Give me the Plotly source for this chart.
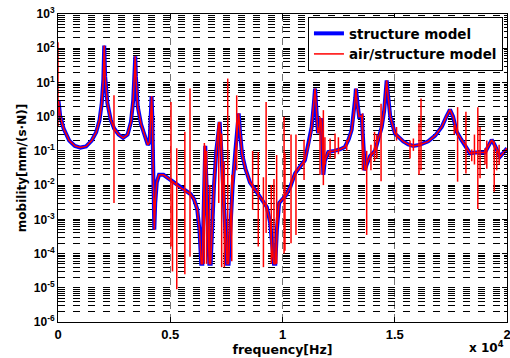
import plotly.graph_objects as go

# ---- structure model (blue) ----
structure_freq = [20, 100, 250, 500, 750, 1000, 1250, 1500, 1700, 1850, 1950, 2020, 2060, 2100, 2200,
                  2350, 2500, 2700, 2900, 3100, 3250, 3350, 3410, 3440, 3470, 3550, 3700, 3850, 4000,
                  4080, 4140, 4170, 4200, 4250, 4290, 4330, 4400, 4500, 4700, 4900, 5100, 5300, 5500,
                  5700, 5900, 6050, 6200, 6300, 6380, 6430, 6480, 6530, 6560, 6600, 6680, 6740, 6800,
                  6870, 6950, 7050, 7150, 7200, 7250, 7350, 7450, 7530, 7600, 7680, 7780, 7900, 7980,
                  8050, 8100, 8200, 8350, 8550, 8800, 9050, 9300, 9450, 9550, 9620, 9680, 9750, 9850,
                  10000, 10150, 10350, 10560, 11000, 11200, 11300, 11400, 11450, 11500, 11580, 11650,
                  11710, 11760, 11820, 11880, 12040, 12300, 12550, 12780, 12950, 13080, 13180, 13240,
                  13270, 13320, 13410, 13530, 13600, 13670, 13750, 13900, 14120, 14300, 14420, 14530,
                  14600, 14640, 14690, 14800, 15010, 15200, 15380, 15600, 15830, 16100, 16490, 16800,
                  17090, 17300, 17460, 17600, 17760, 17950, 18130, 18350, 18600, 19020, 19200, 19320,
                  19450, 19690, 19850, 20000]
structure_mob = [3.0, 1.0, 0.45, 0.2, 0.14, 0.125, 0.135, 0.2, 0.35, 0.8, 2.5, 12, 120, 15, 2.5,
                 0.8, 0.45, 0.3, 0.24, 0.3, 0.7, 3, 20, 58, 15, 2, 0.6, 0.3, 0.15,
                 0.18, 1.5, 4.0, 1.0, 0.01, 5e-4, 0.003, 0.012, 0.02, 0.02, 0.016, 0.013, 0.01, 0.008,
                 0.0065, 0.0055, 0.004, 0.002, 0.0005, 5e-5, 5e-5, 0.005, 0.1, 0.14, 0.02, 0.0005, 5e-5, 5e-5,
                 0.001, 0.01, 0.1, 0.6, 0.7, 0.2, 0.01, 0.0005, 5e-5, 5e-5, 0.001, 0.01, 0.1, 0.6,
                 1.25, 0.4, 0.08, 0.03, 0.012, 0.007, 0.004, 0.0023, 0.0008, 1e-4, 5e-5, 5e-5, 5e-4, 0.003,
                 0.004, 0.005, 0.009, 0.022, 0.054, 0.2, 0.5, 2.5, 6.6, 2, 0.33, 0.5,
                 0.9, 0.3, 0.02, 0.05, 0.093, 0.1, 0.11, 0.13, 0.22, 0.41, 1.2, 3.5,
                 6.6, 2.5, 1.0, 1.05, 0.2, 0.027, 0.04, 0.07, 0.1, 0.25, 0.5, 1.5,
                 5, 11.5, 5, 1.0, 0.32, 0.24, 0.19, 0.155, 0.14, 0.15, 0.19, 0.28,
                 0.5, 1.0, 1.6, 1.0, 0.36, 0.22, 0.15, 0.085, 0.09, 0.09, 0.15, 0.21,
                 0.15, 0.068, 0.09, 0.12]

# ---- air/structure model (red): base follows the structure curve, plus narrow spikes ----
air_base_freq = structure_freq
air_base_mob = structure_mob
spike_freq = [0, 2494, 5033, 5100, 5290, 5650, 5880, 6520, 6620, 6760, 7160, 7290, 7410, 7560, 7740,
              7960, 8670, 8920, 9150, 9270, 9500, 9620, 9740, 10070, 10110, 10380, 10600, 10960,
              11670, 11820, 11890, 12120, 12340, 12490, 12860, 13560, 13750, 13940, 14100, 14200,
              14390, 15080, 15680, 15830, 16080, 16170, 17650, 17800, 18170, 18430, 18550, 18700,
              18800, 19020, 19100, 19430, 19540, 19650]
spike_hi = [150, 4.2, 2.7, 0.013, 0.12, 0.36, 6.6, 0.17, 0.1, 0.01, 0.7, 0.32, 0.05, 13, 0.02,
            4.2, 0.1, 0.093, 0.017, 2.7, 0.01, 0.015, 0.076, 1.0, 0.085, 0.3, 0.3, 0.21,
            1.0, 1.55, 0.25, 0.23, 0.32, 0.25, 0.21, 1.25, 0.1, 0.15, 0.36, 0.3,
            2.4, 0.5, 0.2, 0.23, 0.63, 3.4, 0.57, 1.9, 1.4, 0.11, 0.3, 1.9,
            0.5, 0.12, 0.2, 0.19, 0.1, 0.15]
spike_lo = [0.5, 0.003, 1.6e-4, 3e-5, 9e-6, 2.5e-5, 8e-5, 5e-5, 5e-5, 5e-5, 0.003, 4e-5, 4e-5, 6e-5, 6e-5,
            0.027, 0.0019, 1.6e-4, 4e-5, 4e-4, 5e-5, 6e-5, 5e-5, 1e-4, 1.2e-4, 2e-4, 3.5e-4, 0.014,
            0.02, 0.01, 0.04, 0.06, 0.06, 0.08, 0.1, 0.027, 3.5e-4, 0.027, 0.05, 0.06,
            0.013, 0.2, 0.06, 0.1, 0.02, 0.027, 0.3, 0.0126, 0.022, 0.05, 0.04, 0.002,
            0.016, 0.04, 0.03, 0.0064, 0.027, 0.04]

x_tick_vals = [0, 5000, 10000, 15000, 20000]
x_tick_text = ["0", "0.5", "1", "1.5", "2"]
y_exponents = [-6, -5, -4, -3, -2, -1, 0, 1, 2, 3]
y_tick_vals = [10.0 ** e for e in y_exponents]
y_tick_text = ["10<sup>%d</sup>" % e for e in y_exponents]
y_minor_vals = [m * 10.0 ** e for e in y_exponents[:-1] for m in range(2, 10)]

TICK_FONT = "Liberation Sans, Arial, Helvetica, sans-serif"
WIDE_FONT = "DejaVu Sans, Verdana, sans-serif"

spike_x, spike_y = [], []
for f, hi, lo in zip(spike_freq, spike_hi, spike_lo):
    spike_x += [f, f, None]
    spike_y += [hi, lo, None]

fig = go.Figure()
fig.add_trace(go.Scatter(x=structure_freq, y=structure_mob, mode="lines",
                         line=dict(color="rgb(0,0,255)", width=4),
                         name="structure model"))
fig.add_trace(go.Scatter(x=air_base_freq, y=air_base_mob, mode="lines",
                         line=dict(color="rgb(255,0,0)", width=1.5),
                         name="air/structure model", legendgroup="air"))
fig.add_trace(go.Scatter(x=spike_x, y=spike_y, mode="lines",
                         line=dict(color="rgb(255,0,0)", width=1.5),
                         name="air/structure model", legendgroup="air", showlegend=False))

fig.update_layout(
    width=510, height=358,
    margin=dict(l=58, r=3, t=14, b=36, autoexpand=False),
    paper_bgcolor="white", plot_bgcolor="white",
    font=dict(family=TICK_FONT, size=12, color="black", weight="bold"),
    showlegend=True,
    legend=dict(x=0.991, xanchor="right", y=0.99, yanchor="top",
                bgcolor="white", bordercolor="black", borderwidth=1,
                font=dict(family=WIDE_FONT, size=13.5, color="black", weight="bold"),
                tracegroupgap=0, itemwidth=30),
    xaxis=dict(range=[0, 20000], tickmode="array", tickvals=x_tick_vals, ticktext=x_tick_text,
               tickfont=dict(family=TICK_FONT, size=13, weight="bold"),
               ticklabeloverflow="allow",
               ticks="inside", ticklen=5, tickcolor="black", showline=True, linecolor="black",
               linewidth=1, mirror="ticks", showgrid=True, gridcolor="rgba(0,0,0,0.55)",
               griddash="7px,5px", gridwidth=1, zeroline=False, automargin=False,
               title=dict(text="frequency[Hz]", standoff=2,
                          font=dict(family=WIDE_FONT, size=12.5, weight="bold"))),
    yaxis=dict(type="log", range=[-6, 3], tickmode="array", tickvals=y_tick_vals,
               ticktext=y_tick_text, tickfont=dict(family=TICK_FONT, size=12, weight="bold"),
               ticks="inside", ticklen=5, tickcolor="black",
               showline=True, linecolor="black", linewidth=1, mirror="ticks",
               showgrid=True, gridcolor="black", griddash="7px,8px", gridwidth=1,
               zeroline=False, automargin=False,
               minor=dict(tickmode="array", tickvals=y_minor_vals, ticks="inside", ticklen=3,
                          tickcolor="black", showgrid=True, gridcolor="black",
                          griddash="7px,8px", gridwidth=1),
               title=dict(text="mobility[mm/(s\u00b7N)]", standoff=4,
                          font=dict(family=WIDE_FONT, size=12, weight="bold"))),
    annotations=[dict(text="x 10<sup>4</sup>", xref="paper", yref="paper", x=0.998, y=-0.082,
                      xanchor="right", yanchor="middle", showarrow=False,
                      font=dict(family=WIDE_FONT, size=12, weight="bold"))],
)

fig.write_html("out.html", config={"displayModeBar": False},
               post_script="document.body.style.margin='0';document.body.style.overflow='hidden';")
